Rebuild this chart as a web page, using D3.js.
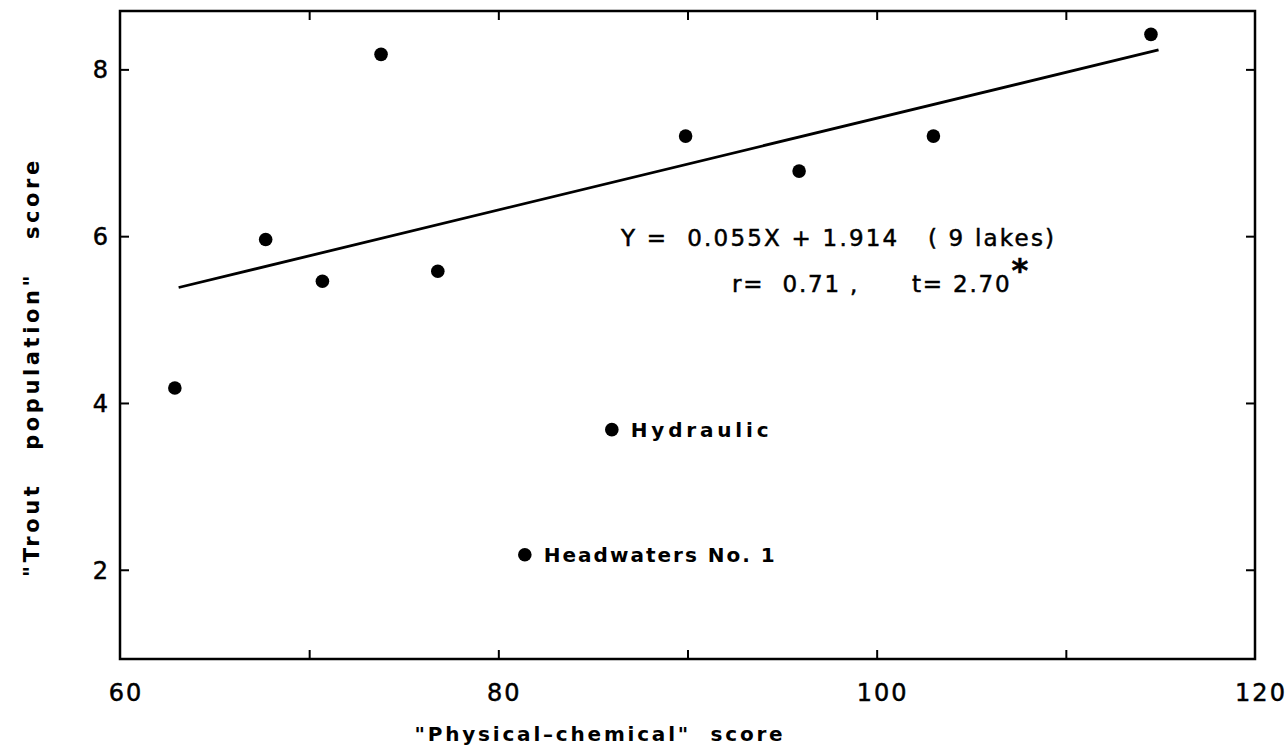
<!DOCTYPE html>
<html>
<head>
<meta charset="utf-8">
<script src="https://cdn.jsdelivr.net/npm/d3@7"></script>
<style>
  html, body { margin: 0; padding: 0; background: #fff; }
  svg { display: block; }
  text { font-family: "DejaVu Sans", sans-serif; fill: #000; white-space: pre; }
  .inked { stroke: #000; stroke-width: 0.5; }
</style>
</head>
<body>
<svg id="chart" width="1286" height="751"></svg>
<script>
// Lake scores: "physical-chemical" score vs "trout population" score
const lakeNames = ["", "", "", "", "", "Headwaters No. 1", "Hydraulic", "", "", "", ""];
const physChemScore = [62.9, 67.7, 70.7, 73.8, 76.8, 81.4, 86.0, 89.9, 95.9, 103.0, 114.5];
const troutScore    = [4.18, 5.96, 5.46, 8.18, 5.58, 2.18, 3.68, 7.20, 6.78, 7.20, 8.42];

const xTicks = [60, 80, 100, 120];
const xMinorTicks = [70, 80, 90, 100, 110];
const yTicks = [2, 4, 6, 8];

// Fitted line over the 9 lakes: Y = 0.055X + 1.914
const slope = 0.055, intercept = 1.914;
const fitRange = [63.1, 114.9];

const svg = d3.select("#chart");
const plotLeft = 120, plotRight = 1255, plotTop = 11, plotBottom = 659;

const x = d3.scaleLinear().domain([60, 120]).range([plotLeft, plotRight]);
const y = d3.scaleLinear().domain([0.93, 8.7]).range([plotBottom, plotTop]);

const ink = "#000";

// frame
svg.append("rect")
  .attr("x", plotLeft).attr("y", plotTop)
  .attr("width", plotRight - plotLeft).attr("height", plotBottom - plotTop)
  .attr("fill", "none").attr("stroke", ink).attr("stroke-width", 2.5);

// inward ticks on all four sides
const tickLen = 9;
const bottomAxis = d3.axisBottom(x).tickValues(xMinorTicks).tickSize(-tickLen).tickFormat("");
const topAxis = d3.axisTop(x).tickValues(xMinorTicks).tickSize(-tickLen).tickFormat("");
const leftAxis = d3.axisLeft(y).tickValues(yTicks).tickSize(-tickLen).tickFormat("");
const rightAxis = d3.axisRight(y).tickValues(yTicks).tickSize(-tickLen).tickFormat("");

function styleAxis(g) {
  g.select(".domain").remove();
  g.selectAll(".tick line").attr("stroke", ink).attr("stroke-width", 2);
}
svg.append("g").attr("transform", `translate(0,${plotBottom})`).call(bottomAxis).call(styleAxis);
svg.append("g").attr("transform", `translate(0,${plotTop})`).call(topAxis).call(styleAxis);
svg.append("g").attr("transform", `translate(${plotLeft},0)`).call(leftAxis).call(styleAxis);
svg.append("g").attr("transform", `translate(${plotRight},0)`).call(rightAxis).call(styleAxis);

// tick labels
svg.append("g").selectAll("text").data(xTicks).join("text")
  .attr("class", "inked")
  .attr("x", d => x(d) + 6)
  .attr("y", plotBottom + 42)
  .attr("text-anchor", "middle")
  .attr("font-size", 24)
  .attr("letter-spacing", 2)
  .text(d => d);

svg.append("g").selectAll("text").data(yTicks).join("text")
  .attr("class", "inked")
  .attr("x", plotLeft - 12)
  .attr("y", d => y(d) + 9)
  .attr("text-anchor", "end")
  .attr("font-size", 24)
  .text(d => d);

// axis titles
svg.append("text")
  .attr("x", 600).attr("y", 741)
  .attr("text-anchor", "middle")
  .attr("font-size", 20)
  .attr("font-weight", "bold")
  .attr("letter-spacing", 2.8)
  .text("\"Physical\u2013chemical\"  score");

svg.append("text")
  .attr("transform", "translate(39,367) rotate(-90)")
  .attr("text-anchor", "middle")
  .attr("font-size", 21)
  .attr("font-weight", "bold")
  .attr("letter-spacing", 3.6)
  .text("\"Trout   population\"   score");

// regression line
const fitLine = d3.line().x(d => x(d)).y(d => y(slope * d + intercept));
svg.append("path")
  .attr("d", fitLine(fitRange))
  .attr("fill", "none").attr("stroke", ink).attr("stroke-width", 2.8);

// points
const pts = physChemScore.map((v, i) => ({ px: v, ty: troutScore[i], name: lakeNames[i] }));
svg.append("g").selectAll("circle").data(pts).join("circle")
  .attr("cx", d => x(d.px)).attr("cy", d => y(d.ty))
  .attr("r", 6.8).attr("fill", ink);

// point labels
svg.append("g").selectAll("text").data(pts.filter(d => d.name)).join("text")
  .attr("x", d => x(d.px) + 19)
  .attr("y", d => y(d.ty) + 7)
  .attr("font-size", 20)
  .attr("font-weight", "bold")
  .attr("letter-spacing", d => d.name === "Hydraulic" ? 3.8 : 2)
  .text(d => d.name);

// regression statistics
svg.append("text")
  .attr("class", "inked")
  .attr("x", 621).attr("y", 246)
  .attr("font-size", 23)
  .attr("letter-spacing", 2.2)
  .text("Y =  0.055X + 1.914   ( 9 lakes)");

svg.append("text")
  .attr("class", "inked")
  .attr("x", 732).attr("y", 292)
  .attr("font-size", 23)
  .attr("letter-spacing", 1.8)
  .text("r=  0.71 ,");

const tText = svg.append("text")
  .attr("class", "inked")
  .attr("x", 912).attr("y", 292)
  .attr("font-size", 23)
  .attr("letter-spacing", 1.8);
tText.append("tspan").text("t= 2.70");
tText.append("tspan").attr("dy", -11).attr("font-size", 32).attr("font-weight", "bold").text("*");
</script>
</body>
</html>
